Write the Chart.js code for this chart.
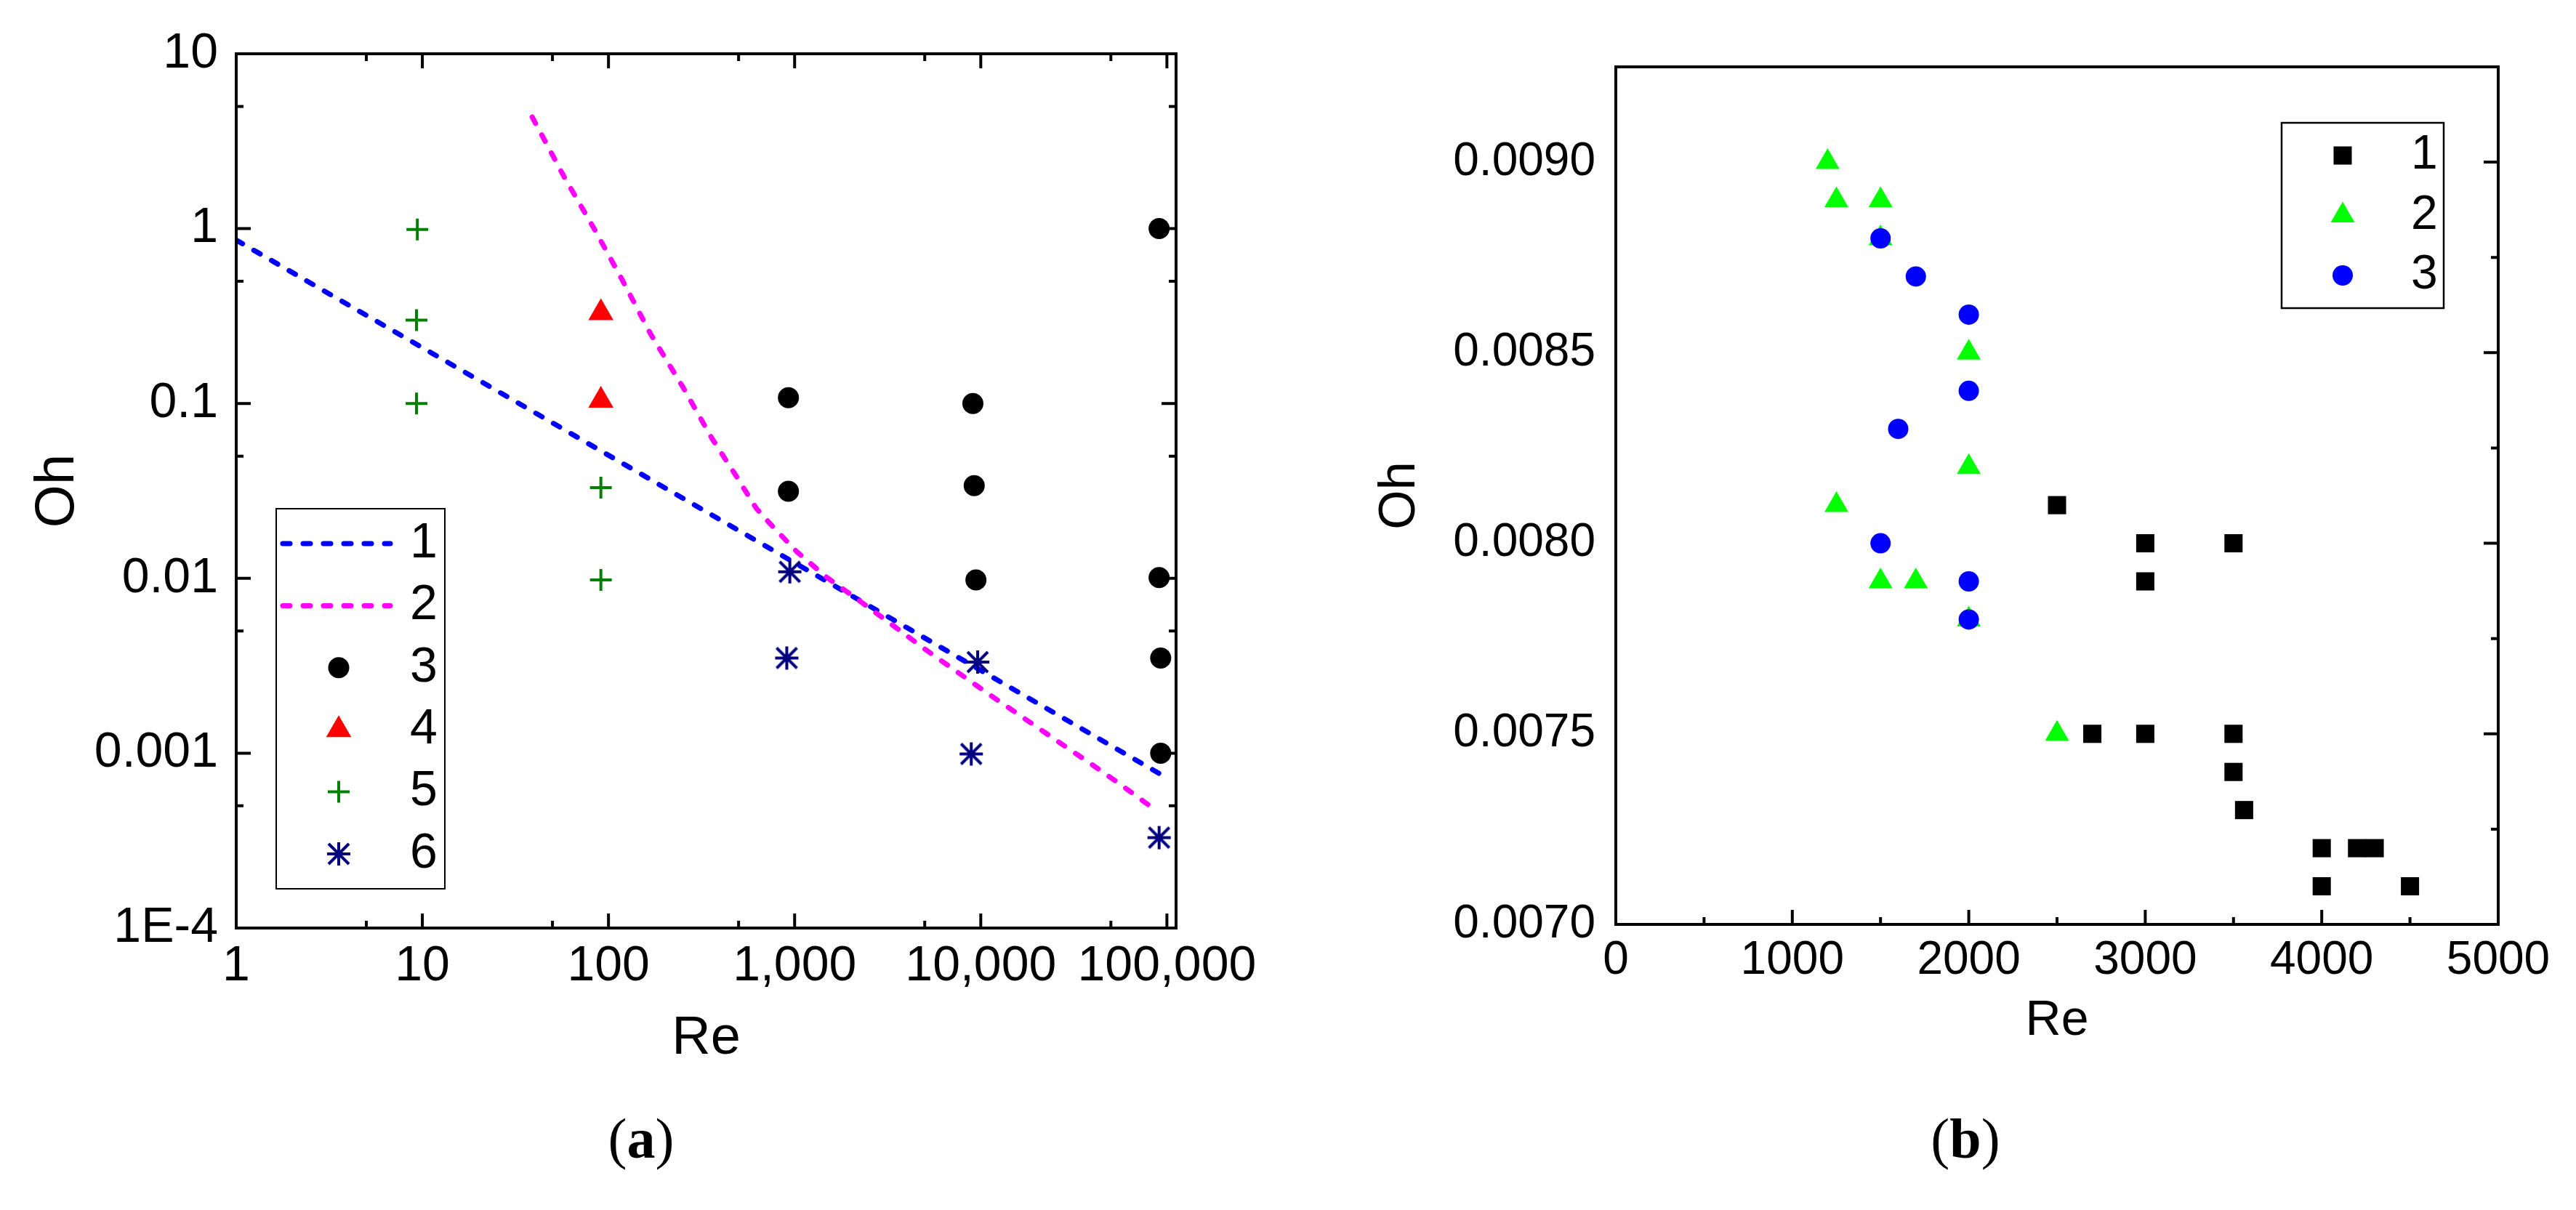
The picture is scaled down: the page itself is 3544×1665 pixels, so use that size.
<!DOCTYPE html>
<html>
<head>
<meta charset="utf-8">
<script src="https://cdn.jsdelivr.net/npm/chart.js@4.4.1/dist/chart.umd.min.js"></script>
<style>
html,body{margin:0;padding:0;background:#fff;}
body{width:3544px;height:1665px;position:relative;overflow:hidden;}
canvas{position:absolute;top:0;}
#cA{left:0;}
#cB{left:1780px;}
.cap{position:absolute;width:400px;text-align:center;font-family:'Liberation Serif','Times New Roman',serif;font-size:78px;line-height:90px;color:#000;top:1522px;}
</style>
</head>
<body>
<canvas id="cA" width="1780" height="1665" style="width:1780px;height:1665px"></canvas>
<canvas id="cB" width="1764" height="1665" style="width:1764px;height:1665px"></canvas>
<div class="cap" style="left:682px">(<b>a</b>)</div>
<div class="cap" style="left:2504px">(<b>b</b>)</div>
<script>
// ================= Panel (a) data =================
const aLegendLabels = ['1', '2', '3', '4', '5', '6'];
const aLine1Re = [1, 96000];
const aLine1Oh = [0.86, 0.00074];
const aLine2Re = [38.9, 57.8, 84.3, 119.6, 168.6, 250, 359, 474, 621, 730, 1027, 1500, 2266, 3430, 5003, 7560, 11450, 17300, 26200, 39600, 59600, 87300];
const aLine2Oh = [4.35, 1.975, 0.986, 0.50, 0.249, 0.125, 0.0633, 0.040, 0.0252, 0.0208, 0.0142, 0.01007, 0.00735, 0.00531, 0.00394, 0.00289, 0.00212, 0.00157, 0.00116, 0.000861, 0.000634, 0.000471];
const aS3Re = [926, 926, 9070, 9220, 9420, 90800, 90800, 92600, 92600];
const aS3Oh = [0.108, 0.0315, 0.1, 0.0339, 0.0098, 1.0, 0.0101, 0.0035, 0.001];
const aS4Re = [91, 91];
const aS4Oh = [0.33, 0.104];
const aS5Re = [9.4, 9.3, 9.3, 91, 91];
const aS5Oh = [0.99, 0.3, 0.1, 0.033, 0.0098];
const aS6Re = [942, 907, 9620, 8890, 90800];
const aS6Oh = [0.0109, 0.0035, 0.00332, 0.00099, 0.000329];
const aXTicks = [1, 10, 100, 1000, 10000, 100000];
const aXTickLabels = ['1', '10', '100', '1,000', '10,000', '100,000'];
const aXMinor = [5, 50, 500, 5000, 50000];
const aYTicks = [0.0001, 0.001, 0.01, 0.1, 1, 10];
const aYTickLabels = ['1E-4', '0.001', '0.01', '0.1', '1', '10'];
const aYMinor = [0.0005, 0.005, 0.05, 0.5, 5];
const aXTitle = 'Re';
const aYTitle = 'Oh';

// ================= Panel (b) data =================
const bLegendLabels = ['1', '2', '3'];
const bS1Re = [2500, 2700, 3000, 3000, 3000, 3500, 3500, 3500, 3560, 4000, 4000, 4200, 4300, 4500];
const bS1Oh = [0.0081, 0.0075, 0.0080, 0.0079, 0.0075, 0.0080, 0.0075, 0.0074, 0.0073, 0.0072, 0.0071, 0.0072, 0.0072, 0.0071];
const bS2Re = [1200, 1250, 1500, 1500, 2000, 2000, 1250, 1500, 1700, 2000, 2500];
const bS2Oh = [0.0090, 0.0089, 0.0089, 0.0088, 0.0085, 0.0082, 0.0081, 0.0079, 0.0079, 0.0078, 0.0075];
const bS3Re = [1500, 1700, 2000, 2000, 1600, 1500, 2000, 2000];
const bS3Oh = [0.0088, 0.0087, 0.0086, 0.0084, 0.0083, 0.0080, 0.0079, 0.0078];
const bXTicks = [0, 1000, 2000, 3000, 4000, 5000];
const bXTickLabels = ['0', '1000', '2000', '3000', '4000', '5000'];
const bXMinor = [500, 1500, 2500, 3500, 4500];
const bYTicks = [0.0070, 0.0075, 0.0080, 0.0085, 0.0090];
const bYTickLabels = ['0.0070', '0.0075', '0.0080', '0.0085', '0.0090'];
const bYMinor = [0.00725, 0.00775, 0.00825, 0.00875];
const bXTitle = 'Re';
const bYTitle = 'Oh';

// ================= helpers =================
const FONT = "'Liberation Sans', Arial, Helvetica, sans-serif";
Chart.defaults.font.family = FONT;
Chart.defaults.color = '#000';

function pts(xs, ys) { return xs.map((x, i) => ({x: x, y: ys[i]})); }

function makeAsterisk(color) {
  const c = document.createElement('canvas');
  c.width = 36; c.height = 36;
  const g = c.getContext('2d');
  g.strokeStyle = color; g.lineWidth = 4;
  g.beginPath();
  g.moveTo(2, 18); g.lineTo(34, 18);
  g.moveTo(18, 2); g.lineTo(18, 34);
  g.moveTo(4, 4); g.lineTo(32, 32);
  g.moveTo(32, 4); g.lineTo(4, 32);
  g.stroke();
  return c;
}

function drawMarker(ctx, ds, x, y) {
  const r = ds.pointRadius, st = ds.pointStyle;
  ctx.save();
  ctx.fillStyle = ds.pointBackgroundColor || '#000';
  ctx.strokeStyle = ds.pointBorderColor || '#000';
  ctx.lineWidth = ds.pointBorderWidth || 0;
  ctx.setLineDash([]);
  if (st instanceof HTMLCanvasElement) {
    ctx.drawImage(st, x - st.width / 2, y - st.height / 2);
  } else if (st === 'circle') {
    ctx.beginPath(); ctx.arc(x, y, r, 0, Math.PI * 2); ctx.fill();
  } else if (st === 'triangle') {
    const s = Math.sin(Math.PI * 2 / 3) * r;
    ctx.beginPath(); ctx.moveTo(x, y - r); ctx.lineTo(x + s, y + r / 2); ctx.lineTo(x - s, y + r / 2); ctx.closePath(); ctx.fill();
  } else if (st === 'rect') {
    const h = Math.SQRT1_2 * r;
    ctx.fillRect(x - h, y - h, 2 * h, 2 * h);
  } else if (st === 'cross') {
    ctx.beginPath(); ctx.moveTo(x - r, y); ctx.lineTo(x + r, y); ctx.moveTo(x, y - r); ctx.lineTo(x, y + r); ctx.stroke();
  }
  ctx.restore();
}

function frameTicksPlugin(cfg) {
  return {
    id: 'frameTicks',
    afterDatasetsDraw(chart) {
      const ctx = chart.ctx, a = chart.chartArea, xs = chart.scales.x, ys = chart.scales.y;
      ctx.save();
      ctx.strokeStyle = '#000';
      ctx.lineWidth = cfg.tickWidth;
      ctx.setLineDash([]);
      ctx.beginPath();
      const xt = (vals, len) => vals.forEach(v => {
        const p = xs.getPixelForValue(v);
        if (cfg.bottom) { ctx.moveTo(p, a.bottom); ctx.lineTo(p, a.bottom - len); }
        if (cfg.top) { ctx.moveTo(p, a.top); ctx.lineTo(p, a.top + len); }
      });
      const yt = (vals, len) => vals.forEach(v => {
        const p = ys.getPixelForValue(v);
        if (cfg.left) { ctx.moveTo(a.left, p); ctx.lineTo(a.left + len, p); }
        if (cfg.right) { ctx.moveTo(a.right, p); ctx.lineTo(a.right - len, p); }
      });
      xt(cfg.xMajor, cfg.majorLen); xt(cfg.xMinor, cfg.minorLen);
      yt(cfg.yMajor, cfg.majorLen); yt(cfg.yMinor, cfg.minorLen);
      ctx.stroke();
      ctx.lineWidth = cfg.frameWidth;
      ctx.strokeRect(a.left, a.top, a.right - a.left, a.bottom - a.top);
      ctx.restore();
    }
  };
}

function legendPlugin(cfg) {
  return {
    id: 'boxLegend',
    afterDraw(chart) {
      const ctx = chart.ctx;
      const dsets = chart.data.datasets;
      ctx.save();
      ctx.fillStyle = '#fff';
      ctx.fillRect(cfg.x1, cfg.y1, cfg.x2 - cfg.x1, cfg.y2 - cfg.y1);
      ctx.strokeStyle = '#000';
      ctx.lineWidth = cfg.boxWidth;
      ctx.strokeRect(cfg.x1, cfg.y1, cfg.x2 - cfg.x1, cfg.y2 - cfg.y1);
      dsets.forEach((ds, i) => {
        const y = cfg.y0 + i * cfg.step;
        if (ds.showLine) {
          ctx.save();
          ctx.strokeStyle = ds.borderColor;
          ctx.lineWidth = ds.borderWidth;
          ctx.lineCap = ds.borderCapStyle || 'butt';
          ctx.setLineDash(ds.borderDash || []);
          ctx.beginPath(); ctx.moveTo(cfg.lineX1, y); ctx.lineTo(cfg.lineX2, y); ctx.stroke();
          ctx.restore();
        } else {
          drawMarker(ctx, ds, cfg.markerX, y);
        }
        ctx.fillStyle = '#000';
        ctx.font = cfg.fontSize + 'px ' + FONT;
        ctx.textAlign = 'left';
        ctx.textBaseline = 'middle';
        ctx.fillText(ds.label, cfg.textX, y);
      });
      ctx.restore();
    }
  };
}

function tickList(values) { return values.map(v => ({value: v})); }

// ================= Chart (a) =================
const asterisk = makeAsterisk('#000080');
new Chart(document.getElementById('cA'), {
  type: 'scatter',
  data: {
    datasets: [
      {label: aLegendLabels[0], data: pts(aLine1Re, aLine1Oh), showLine: true, borderColor: '#0000FF', borderWidth: 7, borderDash: [10, 18], borderCapStyle: 'round', pointRadius: 0, pointHoverRadius: 0, fill: false, order: 6},
      {label: aLegendLabels[1], data: pts(aLine2Re, aLine2Oh), showLine: true, borderColor: '#FF00FF', borderWidth: 7, borderDash: [10, 18], borderCapStyle: 'round', pointRadius: 0, pointHoverRadius: 0, fill: false, tension: 0, order: 5},
      {label: aLegendLabels[2], data: pts(aS3Re, aS3Oh), pointStyle: 'circle', pointRadius: 14.5, pointBackgroundColor: '#000000', pointBorderColor: '#000000', pointBorderWidth: 0, order: 4},
      {label: aLegendLabels[3], data: pts(aS4Re, aS4Oh), pointStyle: 'triangle', pointRadius: 20, pointBackgroundColor: '#FF0000', pointBorderColor: '#FF0000', pointBorderWidth: 0, order: 3},
      {label: aLegendLabels[4], data: pts(aS5Re, aS5Oh), pointStyle: 'cross', pointRadius: 15, pointBackgroundColor: '#008000', pointBorderColor: '#008000', pointBorderWidth: 4, order: 2},
      {label: aLegendLabels[5], data: pts(aS6Re, aS6Oh), pointStyle: asterisk, pointRadius: 18, pointBackgroundColor: '#000080', pointBorderColor: '#000080', pointBorderWidth: 0, order: 1}
    ]
  },
  options: {
    responsive: false,
    animation: false,
    events: [],
    layout: {padding: {left: 0, top: 74, right: 162, bottom: 0}},
    plugins: {legend: {display: false}, tooltip: {enabled: false}, title: {display: false}},
    scales: {
      x: {
        type: 'logarithmic', position: 'bottom', min: 1, max: 112000, bounds: 'data',
        grid: {display: false, drawTicks: false}, border: {display: false},
        afterBuildTicks: s => { s.ticks = tickList(aXTicks); },
        afterFit: s => { s.height = 388; },
        ticks: {autoSkip: false, maxRotation: 0, minRotation: 0, padding: 12, color: '#000',
          font: {size: 68, lineHeight: 1.2},
          callback: (v, i) => aXTickLabels[i]},
        title: {display: true, text: aXTitle, color: '#000', font: {size: 74, lineHeight: 1.2}, padding: {top: 0, bottom: 191}}
      },
      y: {
        type: 'logarithmic', position: 'left', min: 0.0001, max: 10, bounds: 'data',
        grid: {display: false, drawTicks: false}, border: {display: false},
        afterBuildTicks: s => { s.ticks = tickList(aYTicks); },
        afterFit: s => { s.width = 325; },
        ticks: {autoSkip: false, padding: 25, color: '#000',
          font: {size: 68, lineHeight: 1.2},
          callback: (v, i) => aYTickLabels[i]},
        title: {display: true, text: aYTitle, color: '#000', font: {size: 76, lineHeight: 1.2}, padding: {top: 34, bottom: 0}}
      }
    }
  },
  plugins: [
    frameTicksPlugin({xMajor: aXTicks, xMinor: aXMinor, yMajor: aYTicks, yMinor: aYMinor,
      top: true, bottom: true, left: true, right: true, majorLen: 20, minorLen: 10, tickWidth: 4, frameWidth: 4}),
    legendPlugin({x1: 380, y1: 700, x2: 612, y2: 1223, boxWidth: 2, y0: 748, step: 85.4,
      lineX1: 389, lineX2: 537, markerX: 466, textX: 564, fontSize: 68})
  ]
});

// ================= Chart (b) =================
new Chart(document.getElementById('cB'), {
  type: 'scatter',
  data: {
    datasets: [
      {label: bLegendLabels[0], data: pts(bS1Re, bS1Oh), pointStyle: 'rect', pointRadius: 17.7, pointBackgroundColor: '#000000', pointBorderColor: '#000000', pointBorderWidth: 0, order: 2},
      {label: bLegendLabels[1], data: pts(bS2Re, bS2Oh), pointStyle: 'triangle', pointRadius: 19, pointBackgroundColor: '#00FF00', pointBorderColor: '#00FF00', pointBorderWidth: 0, order: 1},
      {label: bLegendLabels[2], data: pts(bS3Re, bS3Oh), pointStyle: 'circle', pointRadius: 14, pointBackgroundColor: '#0000FF', pointBorderColor: '#0000FF', pointBorderWidth: 0, order: 0}
    ]
  },
  options: {
    responsive: false,
    animation: false,
    events: [],
    layout: {padding: {left: 0, top: 92, right: 107, bottom: 0}},
    plugins: {legend: {display: false}, tooltip: {enabled: false}, title: {display: false}},
    scales: {
      x: {
        type: 'linear', position: 'bottom', min: 0, max: 5000, bounds: 'data',
        grid: {display: false, drawTicks: false}, border: {display: false},
        afterBuildTicks: s => { s.ticks = tickList(bXTicks); },
        afterFit: s => { s.height = 393; },
        ticks: {autoSkip: false, maxRotation: 0, minRotation: 0, padding: 12, color: '#000',
          font: {size: 64, lineHeight: 1.2},
          callback: (v, i) => bXTickLabels[i]},
        title: {display: true, text: bXTitle, color: '#000', font: {size: 68, lineHeight: 1.2}, padding: {top: 0, bottom: 219}}
      },
      y: {
        type: 'linear', position: 'left', min: 0.0070, max: 0.00925, bounds: 'data',
        grid: {display: false, drawTicks: false}, border: {display: false},
        afterBuildTicks: s => { s.ticks = tickList(bYTicks); },
        afterFit: s => { s.width = 443; },
        ticks: {autoSkip: false, padding: 28, color: '#000',
          font: {size: 64, lineHeight: 1.2},
          callback: (v, i) => bYTickLabels[i]},
        title: {display: true, text: bYTitle, color: '#000', font: {size: 70, lineHeight: 1.2}, padding: {top: 105, bottom: 0}}
      }
    }
  },
  plugins: [
    frameTicksPlugin({xMajor: bXTicks, xMinor: bXMinor, yMajor: bYTicks, yMinor: bYMinor,
      top: false, bottom: true, left: false, right: true, majorLen: 20, minorLen: 10, tickWidth: 4, frameWidth: 4}),
    legendPlugin({x1: 1359, y1: 169, x2: 1582, y2: 424, boxWidth: 2.5, y0: 214, step: 82.5,
      lineX1: 0, lineX2: 0, markerX: 1443, textX: 1537, fontSize: 66})
  ]
});
</script>
</body>
</html>
